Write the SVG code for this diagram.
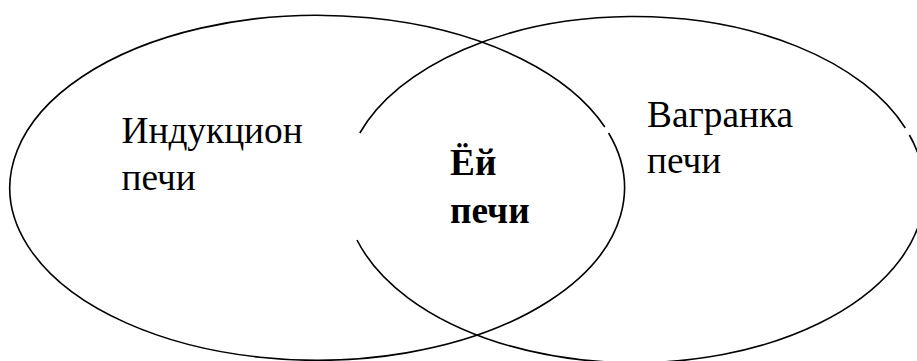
<svg xmlns="http://www.w3.org/2000/svg" width="917" height="361" viewBox="0 0 917 361">
  <style>
    .set { fill: none; stroke: #000000; stroke-width: 1.6; }
    .lbl { font-family: "Liberation Serif", "Times New Roman", serif; font-size: 37.3px; fill: #000000; }
    .bold { font-weight: bold; }
  </style>
  <rect x="0" y="0" width="917" height="361" fill="#ffffff"/>
  <g id="induction-furnace">
    <path class="set" d="M 608.6 133 A 307.3 172.5 0 1 1 604.8 127"/>
    <text class="lbl" x="121.5" y="143.3">Индукцион</text>
    <text class="lbl" x="121.5" y="190">печи</text>
  </g>
  <g id="cupola-furnace">
    <path class="set" d="M 357 240 A 290 172.5 0 1 0 909.4 135 M 905.3 128 A 290 172.5 0 0 0 359.8 133"/>
    <text class="lbl" x="647" y="126.7">Вагранка</text>
    <text class="lbl" x="647" y="173.3">печи</text>
  </g>
  <g id="common-furnace">
    <text class="lbl bold" x="450" y="175">Ёй</text>
    <text class="lbl bold" x="450" y="223.3">печи</text>
  </g>
</svg>
